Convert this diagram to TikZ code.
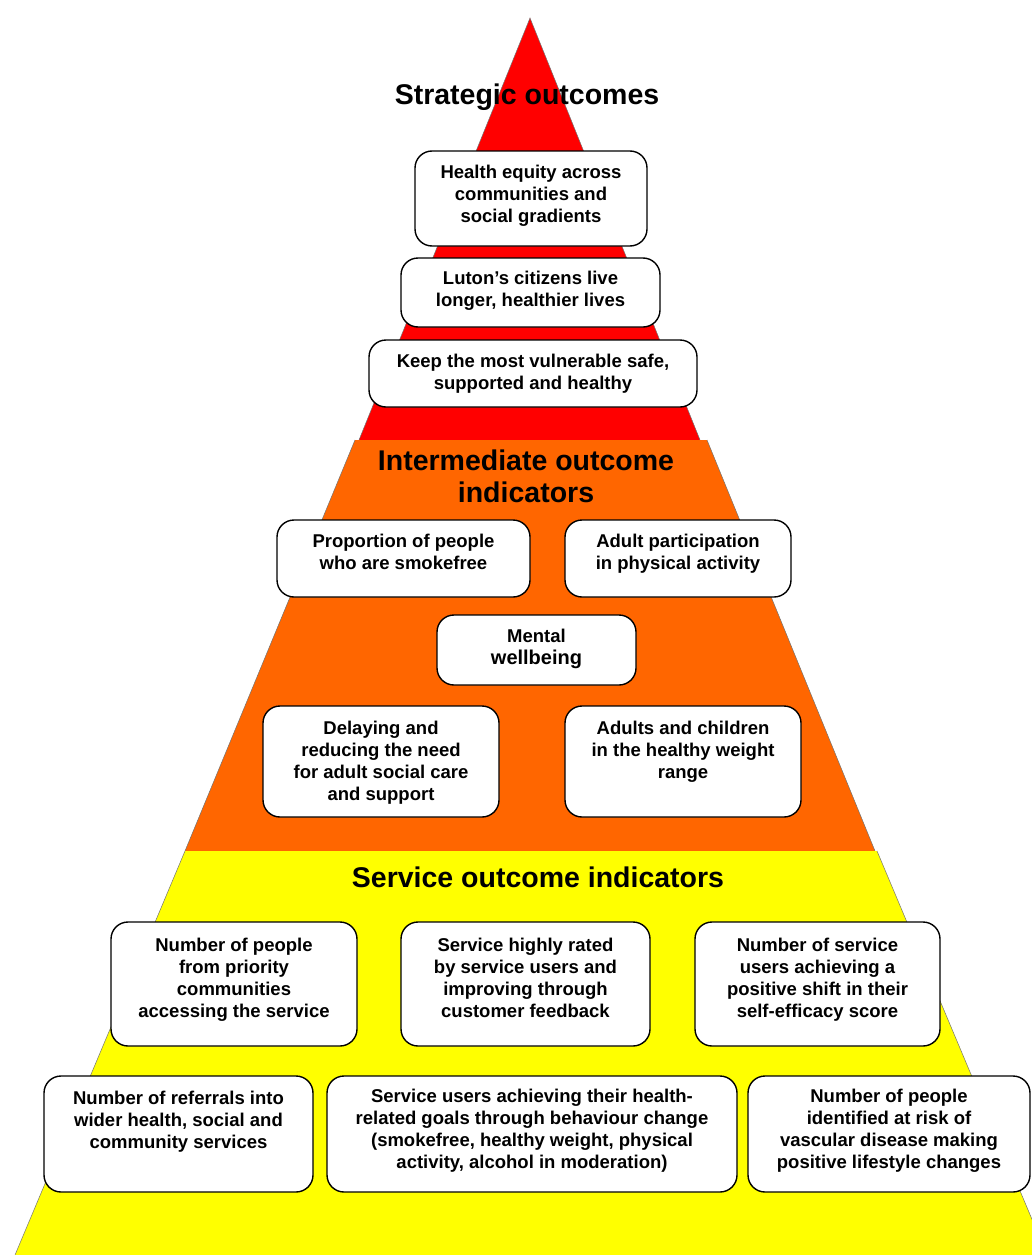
\documentclass[tikz,border=0pt]{standalone}
\usepackage{fontspec}
\setmainfont{Liberation Sans}
\begin{document}
\begin{tikzpicture}[x=1pt,y=-1pt,
  boxst/.style={draw=black, line width=1.4pt, fill=white, rounded corners=17pt,
    inner sep=0pt, outer sep=0pt, anchor=north west},
  txt/.style={align=center, inner sep=0pt, anchor=north,
    font=\bfseries\fontsize{18.5}{22}\selectfont},
  head/.style={align=center, inner sep=0pt, anchor=base,
    font=\bfseries\fontsize{28.5}{32}\selectfont},
  edge/.style={draw=black!55, line width=0.5pt}]
\useasboundingbox (0,0) rectangle (1032,1255);
\clip (0,0) rectangle (1032,1255);
\definecolor{pred}{HTML}{FF0000}
\definecolor{porange}{HTML}{FF6600}
\definecolor{pyellow}{HTML}{FFFF00}
% pyramid layers
\fill[pred] (530,18) -- (700,440) -- (359,440) -- cycle;
\draw[edge] (359,440) -- (530,18) -- (700,440);
\fill[porange] (355,440) -- (707,440) -- (875,851) -- (185,851) -- cycle;
\draw[edge] (185,851) -- (355,440);
\draw[edge] (707,440) -- (875,851);
\fill[pyellow] (185,851) -- (877,851) -- (1047,1255) -- (15,1255) -- cycle;
\draw[edge] (15,1255) -- (185,851);
\draw[edge] (877,851) -- (1047,1255);
% headings
\node[head] (h1) at (527,104) {Strategic outcomes};
\node[head] (h2) at (526,502) {Intermediate outcome\\indicators};
\node[head] (h3) at (538,887) {Service outcome indicators};
% boxes
\newcommand\obox[5]{%
  \node[boxst, minimum width=#4pt, minimum height=#5pt] (#1) at (#2,#3) {};}
\obox{b1}{415}{151}{232}{95}
\obox{b2}{401}{258}{259}{69}
\obox{b3}{369}{340}{328}{67}
\obox{b4}{277}{520}{253}{77}
\obox{b5}{565}{520}{226}{77}
\obox{b6}{437}{615}{199}{70}
\obox{b7}{263}{706}{236}{111}
\obox{b8}{565}{706}{236}{111}
\obox{b9}{111}{922}{246}{124}
\obox{b10}{401}{922}{249}{124}
\obox{b11}{695}{922}{245}{124}
\obox{b12}{44}{1076}{269}{116}
\obox{b13}{327}{1076}{410}{116}
\obox{b14}{748}{1076}{282}{116}
% texts
\node[txt] (t1) at ([yshift=-14pt]b1.north) {Health equity across\\communities and\\social gradients};
\node[txt] (t2) at ([yshift=-13pt]b2.north) {Luton’s citizens live\\longer, healthier lives};
\node[txt] (t3) at ([yshift=-14pt]b3.north) {Keep the most vulnerable safe,\\supported and healthy};
\node[txt] (t4) at ([yshift=-14pt]b4.north) {Proportion of people\\who are smokefree};
\node[txt] (t5) at ([yshift=-14pt]b5.north) {Adult participation\\in physical activity};
\node[txt] (t6) at ([yshift=-14pt]b6.north) {Mental\\{\fontsize{20}{23}\selectfont wellbeing}};
\node[txt] (t7) at ([yshift=-15pt]b7.north) {Delaying and\\reducing the need\\for adult social care\\and support};
\node[txt] (t8) at ([yshift=-15pt]b8.north) {Adults and children\\in the healthy weight\\range};
\node[txt] (t9) at ([yshift=-16pt]b9.north) {Number of people\\from priority\\communities\\accessing the service};
\node[txt] (t10) at ([yshift=-16pt]b10.north) {Service highly rated\\by service users and\\improving through\\customer feedback};
\node[txt] (t11) at ([yshift=-16pt]b11.north) {Number of service\\users achieving a\\positive shift in their\\self-efficacy score};
\node[txt] (t12) at ([yshift=-15pt]b12.north) {Number of referrals into\\wider health, social and\\community services};
\node[txt] (t13) at ([yshift=-13pt]b13.north) {Service users achieving their health-\\related goals through behaviour change\\(smokefree, healthy weight, physical\\activity, alcohol in moderation)};
\node[txt] (t14) at ([yshift=-13pt]b14.north) {Number of people\\identified at risk of\\vascular disease making\\positive lifestyle changes};
\end{tikzpicture}
\end{document}
